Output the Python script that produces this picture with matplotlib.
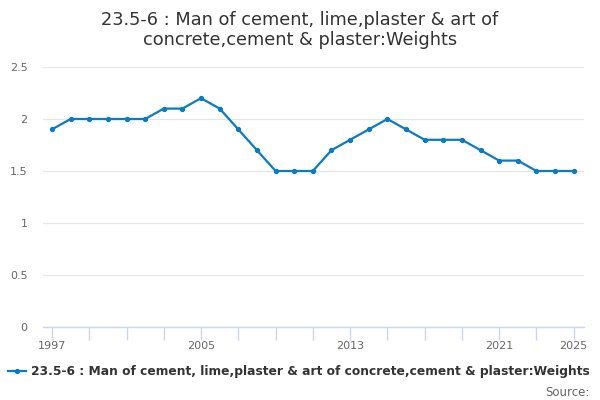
import numpy as np
import matplotlib.pyplot as plt

years = list(range(1997, 2026))
weights = [1.9, 2.0, 2.0, 2.0, 2.0, 2.0, 2.1, 2.1, 2.2, 2.1,
           1.9, 1.7, 1.5, 1.5, 1.5, 1.7, 1.8, 1.9, 2.0, 1.9,
           1.8, 1.8, 1.8, 1.7, 1.6, 1.6, 1.5, 1.5, 1.5]
y_ticks = [0, 0.5, 1, 1.5, 2, 2.5]
y_tick_labels = ['0', '0.5', '1', '1.5', '2', '2.5']
x_labels = [1997, 2005, 2013, 2021, 2025]

series_name = "23.5-6 : Man of cement, lime,plaster & art of concrete,cement & plaster:Weights"
title = "23.5-6 : Man of cement, lime,plaster & art of\nconcrete,cement & plaster:Weights"

fig = plt.figure(figsize=(6, 4), dpi=100)
ax = fig.add_axes([0.0717, 0.1825, 0.9013, 0.65])

line, = ax.plot(years, weights, color='#0a7bc4', lw=1.6, marker='o', markersize=2.8,
                label=series_name)

ax.set_xlim(1996.52, 2025.54)
ax.set_ylim(0, 2.5)
ax.set_yticks(y_ticks)
ax.set_yticklabels(y_tick_labels)
ax.yaxis.grid(True, color='#e6e6e6', lw=0.9)
ax.set_axisbelow(True)

# minor ticks every 2 years, labels only on some
ax.set_xticks(list(range(1997, 2026, 2)), minor=True)
ax.set_xticks(x_labels)
ax.set_xticklabels([str(x) for x in x_labels])
ax.tick_params(axis='x', which='both', length=9, color='#ccd6eb', width=1,
               labelsize=8, labelcolor='#666666', pad=1)
ax.tick_params(axis='y', length=0, labelsize=8, labelcolor='#666666', pad=11)

for s in ['top', 'right', 'left']:
    ax.spines[s].set_visible(False)
ax.spines['bottom'].set_color('#ccd6eb')
ax.spines['bottom'].set_linewidth(1)

fig.text(0.5, 0.925, title, ha='center', va='center', fontsize=12.8, color='#333333',
         linespacing=1.15)

fig.legend(handles=[line], loc='center left', bbox_to_anchor=(-0.005, 0.07),
           frameon=False, handlelength=1.5, handletextpad=0.4,
           prop={'size': 8.8, 'weight': 'bold'}, labelcolor='#333333')

fig.text(0.982, 0.02, "Source:", ha='right', va='center', fontsize=8.5, color='#666666')

fig.savefig('out.png', dpi=100)
